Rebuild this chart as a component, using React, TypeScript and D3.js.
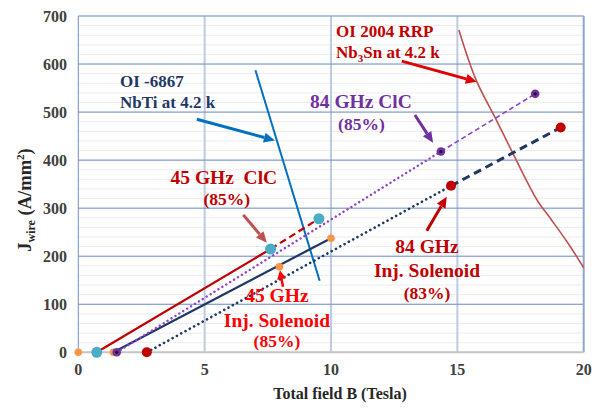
import React from "react";
import * as d3 from "d3";

const W = 595;
const H = 409;

const xTicks = [0, 5, 10, 15, 20];
const yTicks = [0, 100, 200, 300, 400, 500, 600, 700];
const yMinor = d3.range(0, 701, 20);

// 45 GHz ClC (85%) - cyan markers, red line
const clc45Solid: [number, number][] = [[0.73, 0], [7.61, 215]];
const clc45Dash: [number, number][] = [[7.61, 215], [9.52, 278]];
const clc45Pts: [number, number][] = [[0.73, 0], [7.61, 215], [9.52, 278]];

// 45 GHz Inj. Solenoid (85%) - orange markers, navy line
const inj45Line: [number, number][] = [[1.39, 0], [10.0, 237.5]];
const inj45Pts: [number, number][] = [[0, 0], [1.39, 0], [7.96, 178], [10.0, 237.5]];

// 84 GHz ClC (85%) - purple
const clc84Dot: [number, number][] = [[1.52, 0], [14.35, 418]];
const clc84Dash: [number, number][] = [[14.35, 418], [18.08, 538]];
const clc84Pts: [number, number][] = [[1.52, 0], [14.35, 418], [18.08, 538]];

// 84 GHz Inj. Solenoid (83%) - dark red markers, navy line
const inj84Dot: [number, number][] = [[2.71, 0], [14.75, 346.5]];
const inj84Dash: [number, number][] = [[14.75, 346.5], [19.09, 468]];
const inj84Pts: [number, number][] = [[2.71, 0], [14.75, 346.5], [19.09, 468]];

// OI-6867 NbTi at 4.2 K
const nbti: [number, number][] = [[7.01, 587], [9.55, 149]];

// OI 2004 RRP Nb3Sn at 4.2 K
const nb3sn: [number, number][] = [
  [15.06, 671], [15.74, 567], [16.47, 491], [17.2, 414], [17.79, 352],
  [18.19, 314], [18.72, 276], [19.38, 227], [20.0, 176],
];

const M = { left: 78.3, right: 583.7, top: 16, bottom: 352.3 };

export default function App() {
  const x = d3.scaleLinear().domain([0, 20]).range([M.left, M.right]);
  const y = d3.scaleLinear().domain([0, 700]).range([M.bottom, M.top]);
  const line = d3.line<[number, number]>().x((d) => x(d[0])).y((d) => y(d[1]));
  const curve = d3
    .line<[number, number]>()
    .x((d) => x(d[0]))
    .y((d) => y(d[1]))
    .curve(d3.curveCatmullRom.alpha(0.5));

  const serif = '"Liberation Serif", "DejaVu Serif", serif';

  const arrow = (
    from: [number, number],
    to: [number, number],
    color: string,
    width: number,
    headLen = 11,
    headW = 5
  ) => {
    const x1 = x(from[0]), y1 = y(from[1]);
    const x2 = x(to[0]), y2 = y(to[1]);
    const dx = x2 - x1, dy = y2 - y1;
    const len = Math.hypot(dx, dy);
    const ux = dx / len, uy = dy / len;
    const bx = x2 - ux * headLen, by = y2 - uy * headLen;
    const px = -uy, py = ux;
    return (
      <g>
        <line x1={x1} y1={y1} x2={bx} y2={by} stroke={color} strokeWidth={width} />
        <polygon
          points={`${x2},${y2} ${bx + px * headW},${by + py * headW} ${bx - px * headW},${by - py * headW}`}
          fill={color}
        />
      </g>
    );
  };

  return (
    <svg
      width={W}
      height={H}
      style={{ position: "absolute", left: 0, top: 0, background: "#fff", fontFamily: serif }}
    >
      {/* minor grid */}
      {yMinor.map((v) => (
        <line key={"mn" + v} x1={M.left} x2={M.right} y1={y(v)} y2={y(v)} stroke="#ececec" strokeWidth={1} />
      ))}
      {/* vertical grid */}
      {xTicks.slice(1, 4).map((v) => (
        <line key={"vg" + v} x1={x(v)} x2={x(v)} y1={M.top} y2={M.bottom} stroke="#bccbe2" strokeWidth={2} />
      ))}
      {/* major horizontal grid */}
      {yTicks.slice(1).map((v) => (
        <line key={"hg" + v} x1={M.left} x2={M.right} y1={y(v)} y2={y(v)} stroke="#6f8fca" strokeWidth={1} />
      ))}
      {/* frame */}
      <line x1={M.left} x2={M.left} y1={M.top} y2={M.bottom} stroke="#6f8fca" strokeWidth={1} />
      <line x1={M.right} x2={M.right} y1={M.top} y2={M.bottom} stroke="#8ea5cf" strokeWidth={2} />
      <line x1={M.left} x2={M.right} y1={M.bottom} y2={M.bottom} stroke="#c4c4c4" strokeWidth={2} />

      {/* tick labels */}
      {yTicks.map((v) => (
        <text key={"yt" + v} x={67} y={y(v)} dy="0.35em" textAnchor="end" fontSize={16} fontWeight="bold" fill="#404040">
          {v}
        </text>
      ))}
      {xTicks.map((v) => (
        <text key={"xt" + v} x={x(v)} y={375} textAnchor="middle" fontSize={16} fontWeight="bold" fill="#404040">
          {v}
        </text>
      ))}

      {/* axis titles */}
      <text x={340} y={399} textAnchor="middle" fontSize={16} fontWeight="bold" fill="#262626">
        Total field B (Tesla)
      </text>
      <text
        transform="translate(31,200) rotate(-90)"
        textAnchor="middle"
        fontSize={18.5}
        fontWeight="bold"
        fill="#262626"
      >
        J<tspan fontSize={12} dy={4}>wire</tspan>
        <tspan dy={-4}> (A/mm</tspan>
        <tspan fontSize={11} dy={-7}>2</tspan>
        <tspan dy={7}>)</tspan>
      </text>

      {/* NbTi */}
      <path d={line(nbti) || ""} fill="none" stroke="#0070c0" strokeWidth={2} />
      {/* Nb3Sn */}
      <path d={curve(nb3sn) || ""} fill="none" stroke="#c0504d" strokeWidth={1.6} />

      {/* 45 GHz ClC */}
      <path d={line(clc45Solid) || ""} fill="none" stroke="#c00000" strokeWidth={2.2} />
      <path d={line(clc45Dash) || ""} fill="none" stroke="#c00000" strokeWidth={2.2} strokeDasharray="7 4" />
      {/* 45 GHz Inj */}
      <path d={line(inj45Line) || ""} fill="none" stroke="#1f3864" strokeWidth={2.2} />
      {/* 84 GHz ClC */}
      <path d={line(clc84Dot) || ""} fill="none" stroke="#8e44c8" strokeWidth={2.4} strokeDasharray="0.1 4.5" strokeLinecap="round" />
      <path d={line(clc84Dash) || ""} fill="none" stroke="#8e44c8" strokeWidth={1.6} strokeDasharray="5 3" />
      {/* 84 GHz Inj */}
      <path d={line(inj84Dot) || ""} fill="none" stroke="#1f3864" strokeWidth={2.6} strokeDasharray="0.1 4.8" strokeLinecap="round" />
      <path d={line(inj84Dash) || ""} fill="none" stroke="#1f3864" strokeWidth={3} strokeDasharray="8 5" />

      {/* markers */}
      {inj45Pts.map((d, i) => (
        <circle key={"o" + i} cx={x(d[0])} cy={y(d[1])} r={3.8} fill="#f79646" />
      ))}
      {clc45Pts.map((d, i) => (
        <circle key={"c" + i} cx={x(d[0])} cy={y(d[1])} r={5.5} fill="#4bacc6" />
      ))}
      {clc84Pts.map((d, i) => (
        <g key={"p" + i}>
          <circle cx={x(d[0])} cy={y(d[1])} r={4.3} fill="#7030a0" />
          <circle cx={x(d[0])} cy={y(d[1])} r={1.6} fill="#1a0a2a" />
        </g>
      ))}
      {inj84Pts.map((d, i) => (
        <circle key={"r" + i} cx={x(d[0])} cy={y(d[1])} r={5} fill="#c00000" />
      ))}

      {/* annotations */}
      <g fontWeight="bold">
        <text x={x(10.2)} y={y(656)} fontSize={17} fill="#c00000">OI 2004 RRP</text>
        <text x={x(10.2)} y={y(612.6)} fontSize={17} fill="#c00000">
          Nb<tspan fontSize={11} dy={4}>3</tspan><tspan dy={-4}>Sn at 4.2 k</tspan>
        </text>
        {arrow([12.8, 606], [15.77, 563], "#e00000", 3)}

        <text x={x(1.65)} y={y(552)} fontSize={17} fill="#1f3864">OI -6867</text>
        <text x={x(1.65)} y={y(508.5)} fontSize={17} fill="#1f3864">NbTi at 4.2 k</text>
        {arrow([4.69, 485], [7.78, 441], "#0070c0", 3)}

        <text x={x(9.17)} y={y(508.5)} fontSize={19.5} fill="#7030a0">84 GHz ClC</text>
        <text x={x(10.28)} y={y(463)} fontSize={17.5} fill="#7030a0">(85%)</text>
        {arrow([13.32, 494], [14.04, 436], "#7030a0", 3)}

        <text x={x(5.76)} y={y(350)} fontSize={19.5} fill="#c00000" textAnchor="middle" style={{ whiteSpace: "pre" }}>
          45 GHz  ClC
        </text>
        <text x={x(5.88)} y={y(306.6)} fontSize={17.5} fill="#c00000" textAnchor="middle">(85%)</text>
        {arrow([6.53, 286], [7.46, 228], "#c0504d", 3)}

        <text x={x(7.86)} y={y(105)} fontSize={19.5} fill="#ff0000" textAnchor="middle">45 GHz</text>
        <text x={x(7.86)} y={y(53)} fontSize={19.5} fill="#ff0000" textAnchor="middle">Inj. Solenoid</text>
        <text x={x(7.86)} y={y(11.7)} fontSize={17.5} fill="#ff0000" textAnchor="middle">(85%)</text>
        {arrow([8.1, 136.5], [7.98, 171], "#ff0000", 2.5, 9, 4.5)}

        <text x={x(13.8)} y={y(206.7)} fontSize={19.5} fill="#c00000" textAnchor="middle">84 GHz</text>
        <text x={x(13.8)} y={y(156.7)} fontSize={19.5} fill="#c00000" textAnchor="middle">Inj. Solenoid</text>
        <text x={x(13.8)} y={y(111)} fontSize={17.5} fill="#c00000" textAnchor="middle">(83%)</text>
        {arrow([13.79, 253], [14.58, 324], "#c00000", 3)}
      </g>
    </svg>
  );
}
